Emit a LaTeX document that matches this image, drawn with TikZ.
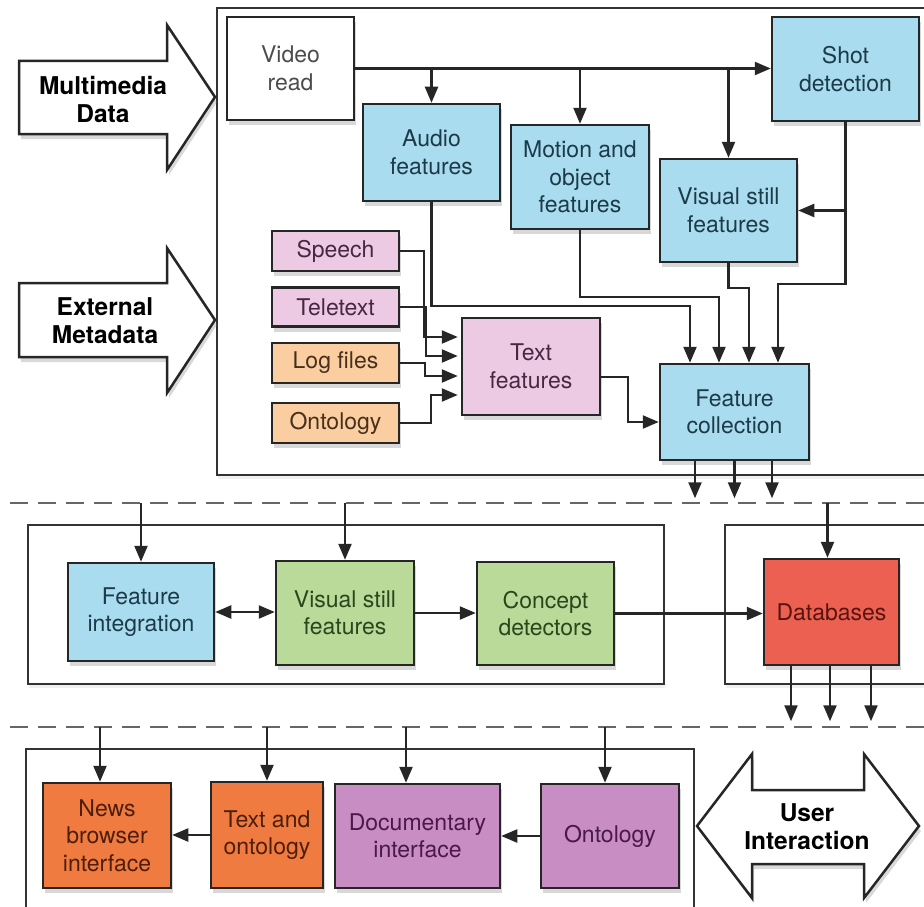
\documentclass[tikz,border=0pt]{standalone}
\usepackage{fontspec}
\setmainfont{TeX Gyre Heros}
\usetikzlibrary{arrows.meta,shadows}

\definecolor{bluefill}{RGB}{168,220,238}
\definecolor{bluetext}{RGB}{28,58,72}
\definecolor{pinkfill}{RGB}{236,202,228}
\definecolor{pinktext}{RGB}{72,38,68}
\definecolor{peachfill}{RGB}{250,206,160}
\definecolor{peachtext}{RGB}{72,48,28}
\definecolor{greenfill}{RGB}{186,218,154}
\definecolor{greentext}{RGB}{38,72,28}
\definecolor{redfill}{RGB}{236,96,82}
\definecolor{redtext}{RGB}{88,20,14}
\definecolor{orangefill}{RGB}{240,123,64}
\definecolor{orangetext}{RGB}{78,30,10}
\definecolor{purplefill}{RGB}{200,142,196}
\definecolor{purpletext}{RGB}{74,24,74}

\begin{document}
\begin{tikzpicture}[x=1pt, y=-1pt, line join=miter,
  box/.style={draw=black!85, line width=2.5pt, align=center, inner sep=0pt,
    font=\fontsize{23}{27.5}\selectfont,
    drop shadow={shadow xshift=2pt, shadow yshift=-5pt, opacity=0.3}},
  bluebox/.style={box, fill=bluefill, text=bluetext},
  pinkbox/.style={box, fill=pinkfill, text=pinktext},
  peachbox/.style={box, fill=peachfill, text=peachtext},
  greenbox/.style={box, fill=greenfill, text=greentext},
  redbox/.style={box, fill=redfill, text=redtext},
  orangebox/.style={box, fill=orangefill, text=orangetext},
  purplebox/.style={box, fill=purplefill, text=purpletext},
  frame/.style={draw=black!80, line width=2.2pt, fill=white,
    drop shadow={shadow xshift=1pt, shadow yshift=-4pt, opacity=0.12}},
  bigarrow/.style={draw=black!85, line width=2.5pt, fill=white,
    drop shadow={shadow xshift=2pt, shadow yshift=-5pt, opacity=0.3}},
  biglabel/.style={align=center, font=\bfseries\fontsize{24.5}{28}\selectfont},
  tip/.style={Triangle[length=16pt,width=13pt]},
  conn/.style={draw=black!85, line width=2.3pt, -{Triangle[length=16pt,width=13pt]}},
  divider/.style={draw=black!60, line width=2.3pt, dash pattern=on 18pt off 10pt}]

\clip (0,0) rectangle (924,907);

% containers
\draw[frame] (217,8) rectangle (940,475);
\draw[frame] (28,525) rectangle (664,684);
\draw[frame] (725,525) rectangle (940,684);
\draw[frame] (26,749) rectangle (694,920);

% dashed dividers
\coordinate (divAw) at (10,503);
\coordinate (divAe) at (924,503);
\coordinate (divBw) at (10,727);
\coordinate (divBe) at (924,727);
\draw[divider] (divAw) -- (divAe);
\draw[divider] (divBw) -- (divBe);

% input arrows
\draw[bigarrow] (19,61) -- (167,61) -- (167,25) -- (215,97) -- (167,170) -- (167,134) -- (19,134) -- cycle;
\node[biglabel] (mmdata) at (103,99) {Multimedia\\Data};
\draw[bigarrow] (19,283) -- (167,283) -- (167,248) -- (215,320) -- (167,393) -- (167,357) -- (19,357) -- cycle;
\node[biglabel] (extmeta) at (105,321) {External\\Metadata};

% analysis stage
\node[box, fill=white, text=black!70, minimum width=127pt, minimum height=103pt] (video) at (290.5,68.5) {Video\\read};
\node[bluebox, minimum width=137pt, minimum height=97pt] (audio) at (431.5,152.5) {Audio\\features};
\node[bluebox, minimum width=138pt, minimum height=104pt] (motion) at (580,177) {Motion and\\object\\features};
\node[bluebox, minimum width=137pt, minimum height=103pt] (visual) at (728.5,210.5) {Visual still\\features};
\node[bluebox, minimum width=147pt, minimum height=104pt] (shot) at (845.5,69) {Shot\\detection};
\node[pinkbox, minimum width=138pt, minimum height=97pt] (textf) at (531,366.5) {Text\\features};
\node[bluebox, minimum width=149pt, minimum height=96pt] (fcoll) at (734.5,412) {Feature\\collection};
\node[pinkbox, minimum width=127pt, minimum height=40pt] (speech) at (335.5,251) {Speech};
\node[pinkbox, minimum width=127pt, minimum height=39pt] (teletext) at (335.5,307) {Teletext};
\node[peachbox, minimum width=127pt, minimum height=40pt] (logfiles) at (335.5,363) {Log files};
\node[peachbox, minimum width=127pt, minimum height=40pt] (ontoA) at (335.5,423) {Ontology};

\draw[conn] (video.east) -- (video.east -| shot.west);
\draw[conn] (audio.north |- video.east) -- (audio.north);
\draw[conn] (motion.north |- video.east) -- (motion.north);
\draw[conn] (visual.north |- video.east) -- (visual.north);
\draw[conn] (shot.south |- visual.east) -- (visual.east);
\draw[conn] (shot.south) -- ++(0,162) -| ([xshift=43.5pt]fcoll.north);
\draw[conn] (visual.south) -- ++(0,25) -| ([xshift=14.5pt]fcoll.north);
\draw[conn] (motion.south) -- ++(0,67) -| ([xshift=-15.5pt]fcoll.north);
\draw[conn] (audio.south) -- ++(0,104) -| ([xshift=-44.5pt]fcoll.north);
\draw[conn] ([yshift=-10.5pt]textf.east) -- ++(27,0) |- ([yshift=-10pt]fcoll.west);
\draw[conn, shorten >=3pt] (speech.east) -- ++(24,0) |- ([yshift=29.5pt]textf.west);
\draw[conn, shorten >=3pt] (teletext.east) -- ++(26,0) |- ([yshift=10.5pt]textf.west);
\draw[conn, shorten >=3pt] (logfiles.east) -- ++(25,0) |- ([yshift=-9.5pt]textf.west);
\draw[conn, shorten >=3pt] (ontoA.east) -- ++(31,0) |- ([yshift=-28.5pt]textf.west);
\foreach \dx in {-39.5,0,37.5}
  \draw[conn] ([xshift=\dx pt]fcoll.south) -- ++(0,37);

% indexing stage
\node[bluebox, minimum width=146pt, minimum height=98pt] (finteg) at (141,612) {Feature\\integration};
\node[greenbox, minimum width=138pt, minimum height=104pt] (vstill) at (345,613) {Visual still\\features};
\node[greenbox, minimum width=137pt, minimum height=103pt] (concept) at (545.5,613.5) {Concept\\detectors};
\node[redbox, minimum width=135pt, minimum height=106pt] (db) at (831.5,612) {Databases};

\draw[conn] (finteg.north |- divAw) -- (finteg.north);
\draw[conn] (vstill.north |- divAw) -- (vstill.north);
\draw[conn] ([xshift=-4pt]db.north |- divAw) -- ([xshift=-4pt]db.north);
\draw[conn, {Triangle[length=16pt,width=13pt]}-{Triangle[length=16pt,width=13pt]}] (finteg.east) -- (finteg.east -| vstill.west);
\draw[conn] (vstill.east) -- (vstill.east -| concept.west);
\draw[conn] (concept.east) -- (concept.east -| db.west);
\foreach \dx in {-40.5,-1.5,39.5}
  \draw[conn] ([xshift=\dx pt]db.south) -- ++(0,55);

% interface stage
\node[orangebox, minimum width=128pt, minimum height=105pt] (news) at (107,835.5) {News\\browser\\interface};
\node[orangebox, minimum width=112pt, minimum height=106pt] (textonto) at (267,835) {Text and\\ontology};
\node[purplebox, minimum width=165pt, minimum height=104pt] (docu) at (417.5,836) {Documentary\\interface};
\node[purplebox, minimum width=138pt, minimum height=104pt] (ontoB) at (610,836) {Ontology};

\draw[conn] ([xshift=-7pt]news.north |- divBw) -- ([xshift=-7pt]news.north);
\draw[conn] (textonto.north |- divBw) -- (textonto.north);
\draw[conn] ([xshift=-11.5pt]docu.north |- divBw) -- ([xshift=-11.5pt]docu.north);
\draw[conn] ([xshift=-5pt]ontoB.north |- divBw) -- ([xshift=-5pt]ontoB.north);
\draw[conn] (ontoB.west) -- (ontoB.west -| docu.east);
\draw[conn] (textonto.west) -- (textonto.west -| news.east);

% user interaction
\draw[bigarrow] (697,826) -- (752,754) -- (752,790) -- (864,790) -- (864,754) -- (919,826) -- (864,898) -- (864,864) -- (752,864) -- (752,898) -- cycle;
\node[biglabel] (user) at (807,827) {User\\Interaction};

\end{tikzpicture}
\end{document}
